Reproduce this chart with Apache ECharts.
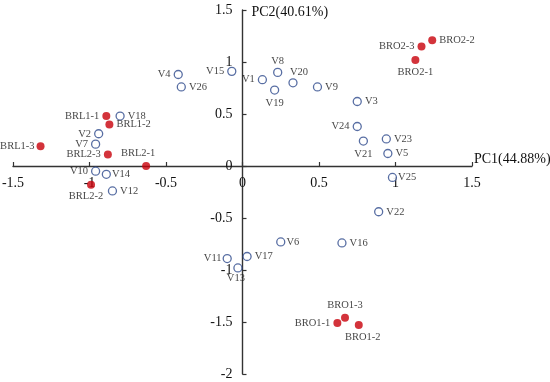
<!DOCTYPE html>
<html><head><meta charset="utf-8">
<script src="https://cdn.jsdelivr.net/npm/echarts@6/dist/echarts.min.js"></script>
<style>html,body{margin:0;padding:0;background:#fff}#c{width:550px;height:382px}</style>
</head><body><div id="c"></div>
<script>
// Variables (hollow markers)
const varNames = ['V18','V2','V7','V10','V14','V12','V4','V26','V15','V1','V8','V19','V20','V9','V3','V24','V21','V23','V5','V25','V11','V17','V13','V22','V6','V16'];
const varPC1 = [-0.80,-0.94,-0.96,-0.96,-0.89,-0.85,-0.42,-0.40,-0.07,0.13,0.23,0.21,0.33,0.49,0.75,0.75,0.79,0.94,0.95,0.98,-0.10,0.03,-0.03,0.89,0.25,0.65];
const varPC2 = [0.48,0.31,0.21,-0.05,-0.08,-0.24,0.88,0.76,0.91,0.83,0.90,0.73,0.80,0.76,0.62,0.38,0.24,0.26,0.12,-0.11,-0.89,-0.87,-0.98,-0.44,-0.73,-0.74];
// Samples (filled markers)
const smpNames = ['BRL1-1','BRL1-2','BRL1-3','BRL2-1','BRL2-2','BRL2-3','BRO1-1','BRO1-2','BRO1-3','BRO2-1','BRO2-2','BRO2-3'];
const smpPC1 = [-0.89,-0.87,-1.32,-0.63,-0.99,-0.88,0.62,0.76,0.67,1.13,1.24,1.17];
const smpPC2 = [0.48,0.40,0.19,0.00,-0.18,0.11,-1.51,-1.53,-1.46,1.02,1.21,1.15];
const xTicks = [-1.5,-1,-0.5,0,0.5,1,1.5];
const yTicks = [-2,-1.5,-1,-0.5,0,0.5,1,1.5];

// label placement (style only)
const labelPos = {
 'V18':['right'],'V2':['left'],'V7':['left'],'V10':['left'],'V14':['right',[-2,0]],'V12':['right'],
 'V4':['left'],'V26':['right'],'V15':['left'],'V1':['left'],'V8':['top',[0,2]],'V19':['bottom'],
 'V20':['top',[6,3]],'V9':['right'],'V3':['right'],'V24':['left'],'V21':['bottom'],'V23':['right'],
 'V5':['right'],'V25':['right',[-2,0]],'V11':['left',[2,0]],'V17':['right'],'V13':['bottom',[-2,-3]],
 'V22':['right'],'V6':['right',[-2,0]],'V16':['right'],
 'BRL1-1':['left'],'BRL1-2':['right'],'BRL1-3':['left',[1,0]],'BRL2-1':['top',[-8,0]],'BRL2-2':['bottom',[-5,-1]],
 'BRL2-3':['left'],'BRO1-1':['left'],'BRO1-2':['bottom',[4,0]],'BRO1-3':['top'],'BRO2-1':['bottom'],
 'BRO2-2':['right'],'BRO2-3':['left']
};
function build(names, xs, ys){
  return names.map((n,i)=>{
    const p = labelPos[n] || ['right'];
    return {name:n, value:[xs[i], ys[i]], label:{position:p[0], offset:p[1]||[0,0]}};
  });
}
const serif = '"Liberation Serif","Times New Roman",serif';
const chart = echarts.init(document.getElementById('c'), null, {renderer:'canvas'});
const GL=13, GR=78, GT=10, GB=8, W=550, H=382;
const gw=W-GL-GR, gh=H-GT-GB;
const xZeroOff = gh*(0-(-2))/3.5;      // distance from bottom edge to y=0
const yZeroOff = gw*(0-(-1.5))/3;      // distance from left edge to x=0
const axisCommon = {
  axisLine:{onZero:false, lineStyle:{color:'#333', width:1.4}},
  axisTick:{show:true, inside:true, length:4, lineStyle:{color:'#333', width:1.2}},
  splitLine:{show:false}
};
chart.setOption({
  animation:false,
  backgroundColor:'#fff',
  grid:{left:GL, right:GR, top:GT, bottom:GB, containLabel:false, outerBoundsMode:'none'},
  xAxis:Object.assign({}, axisCommon, {
    type:'value', min:-1.5, max:1.5, interval:0.5, position:'bottom', offset:-xZeroOff,
    name:'PC1(44.88%)', nameLocation:'end', nameGap:2,
    nameTextStyle:{color:'#111', fontFamily:serif, fontSize:14, verticalAlign:'bottom', padding:[0,0,0,0]},
    axisLabel:{color:'#111', fontFamily:serif, fontSize:14, margin:10, formatter:v=>String(v)}
  }),
  yAxis:Object.assign({}, axisCommon, {
    type:'value', min:-2, max:1.5, interval:0.5, position:'left', offset:-yZeroOff,
    name:'PC2(40.61%)', nameLocation:'end', nameGap:-2,
    nameTextStyle:{color:'#111', fontFamily:serif, fontSize:14, align:'left', verticalAlign:'middle', padding:[0,0,0,9]},
    axisLabel:{color:'#111', fontFamily:serif, fontSize:14, margin:10, formatter:v=>String(v)}
  }),
  series:[
    {type:'scatter', name:'vars', data:build(varNames,varPC1,varPC2),
     symbol:'circle', symbolSize:8,
     itemStyle:{color:'#fff', borderColor:'#2E4A8C', borderWidth:1.3},
     label:{show:true, formatter:'{b}', color:'#111', fontFamily:serif, fontSize:10.5, distance:3}},
    {type:'scatter', name:'samples', data:build(smpNames,smpPC1,smpPC2),
     symbol:'circle', symbolSize:8,
     itemStyle:{color:'#C8000A', borderWidth:0},
     label:{show:true, formatter:'{b}', color:'#111', fontFamily:serif, fontSize:10.5, distance:3}}
  ]
});
</script></body></html>
